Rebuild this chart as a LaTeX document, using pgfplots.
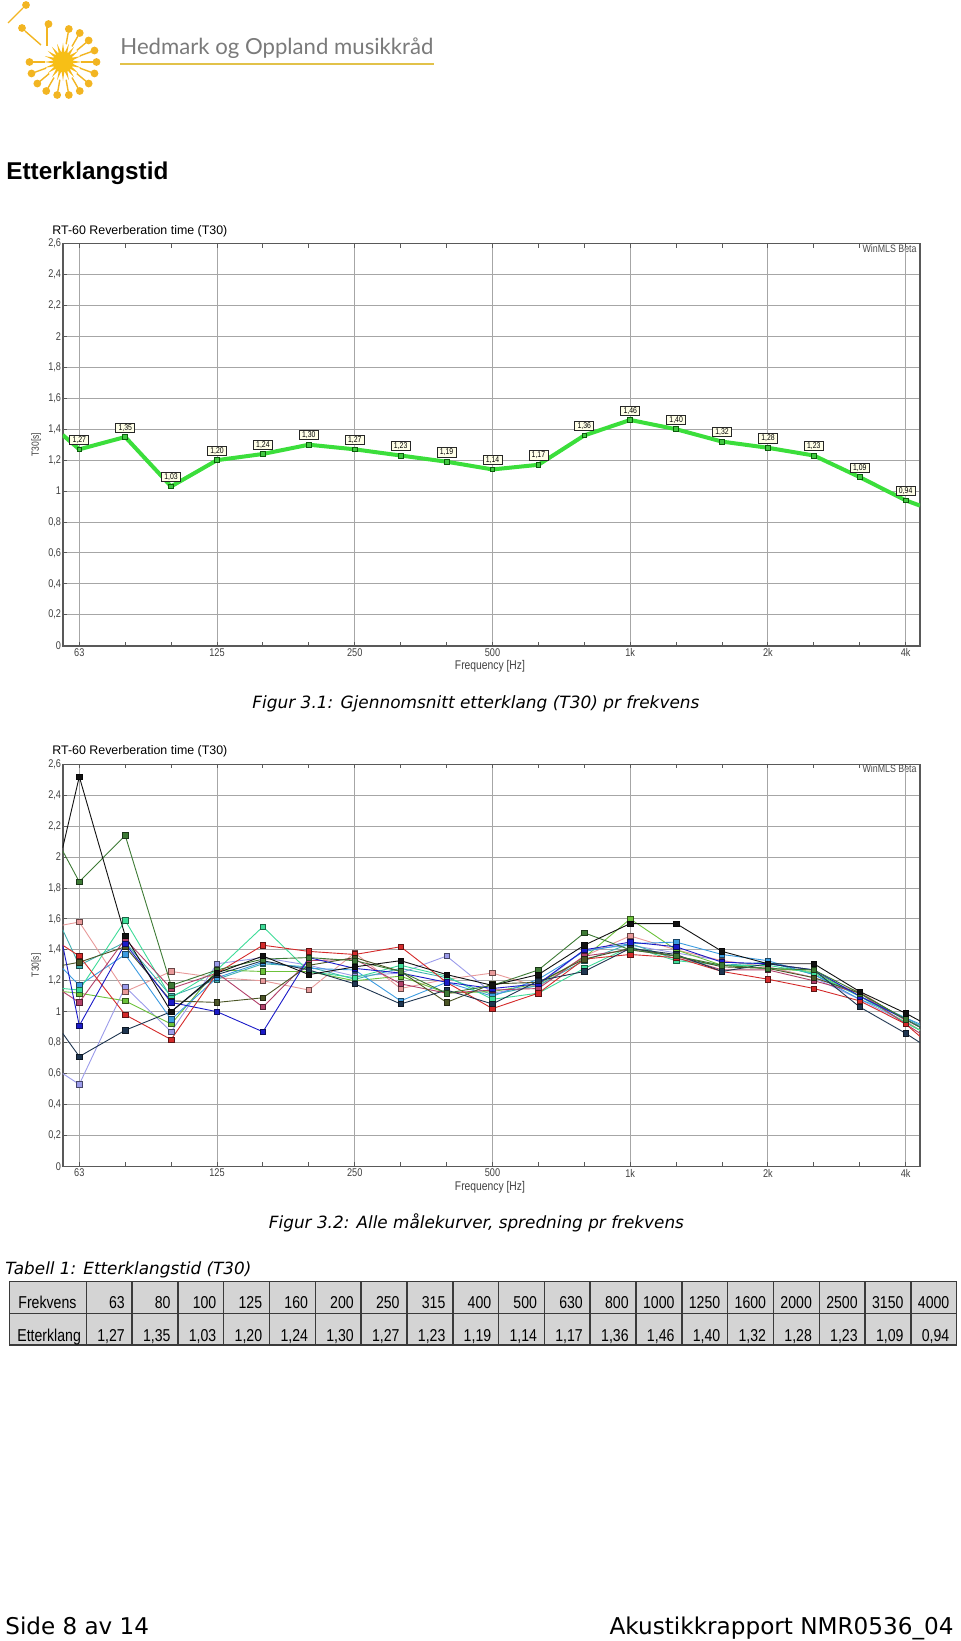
\documentclass[border=0pt]{standalone}
\usepackage{fontspec}
\usepackage{graphicx}
\usepackage{pgfplots}
\usepackage{pgfplotstable}
\pgfplotsset{compat=1.18}
\setmainfont{Liberation Sans}
\newfontfamily\narrowf[FakeStretch=0.82]{Liberation Sans}
\newfontfamily\dvs{DejaVu Sans}
\newfontfamily\lato{Lato}

\definecolor{sunY}{HTML}{F6B818}
\definecolor{noteY}{HTML}{F2B522}
\definecolor{logoG}{HTML}{7A7A7A}
\definecolor{lineY}{HTML}{E2C24A}
\definecolor{lgreen}{HTML}{3BDE3B}
\definecolor{mgreen}{HTML}{40C840}
\definecolor{dgreen}{HTML}{0B5E0B}
\definecolor{tipY}{HTML}{FFFFE8}
\definecolor{tabG}{HTML}{D4D4D4}
\definecolor{tabL}{HTML}{3A3A3A}
\definecolor{gridG}{HTML}{A6A6A6}
\definecolor{cA}{HTML}{111111}
\definecolor{cB}{HTML}{3D7A35}
\definecolor{cC}{HTML}{E89A9A}
\definecolor{cD}{HTML}{D42A2A}
\definecolor{cE}{HTML}{4B5526}
\definecolor{cF}{HTML}{3B9BE0}
\definecolor{cG}{HTML}{3DDC98}
\definecolor{cH}{HTML}{B2406A}
\definecolor{cI}{HTML}{1A1AC8}
\definecolor{cJ}{HTML}{1E3550}
\definecolor{cK}{HTML}{9B9BEA}
\definecolor{cL}{HTML}{6CC23A}
\definecolor{cM}{HTML}{40B0B0}

% all measured curves (x = third-octave index, 63 Hz = 0 ... 4 kHz = 18; first/last rows are the plot edges)
\pgfplotstableread{
x s1 s2 s3 s4 s5 s6 s7 s8 s9 s10 s11 s12 s13
-0.3616 2.06 2.04 1.56 1.43 1.30 1.28 1.15 1.13 1.43 0.86 0.60 1.13 1.53
0 2.52 1.84 1.58 1.36 1.32 1.17 1.14 1.06 0.91 0.71 0.53 1.12 1.30
1 1.49 2.14 1.13 0.98 1.42 1.37 1.59 1.47 1.44 0.88 1.16 1.07 1.45
2 1.00 1.17 1.26 0.82 1.07 0.95 1.09 1.15 1.06 1.00 0.87 0.92 1.10
3 1.25 1.27 1.22 1.25 1.06 1.22 1.27 1.25 1.00 1.24 1.31 1.27 1.21
4 1.36 1.34 1.20 1.43 1.09 1.32 1.55 1.03 0.87 1.33 1.35 1.26 1.31
5 1.24 1.35 1.14 1.39 1.30 1.28 1.26 1.33 1.35 1.27 1.30 1.26 1.29
6 1.29 1.33 1.38 1.37 1.35 1.27 1.22 1.34 1.28 1.18 1.23 1.20 1.21
7 1.33 1.26 1.15 1.42 1.26 1.07 1.30 1.18 1.25 1.05 1.25 1.23 1.28
8 1.24 1.12 1.21 1.19 1.06 1.19 1.23 1.12 1.19 1.14 1.36 1.12 1.22
9 1.17 1.17 1.25 1.02 1.18 1.10 1.08 1.14 1.15 1.05 1.12 1.13 1.11
10 1.24 1.27 1.16 1.12 1.19 1.21 1.12 1.15 1.18 1.20 1.17 1.18 1.17
11 1.43 1.51 1.36 1.34 1.34 1.39 1.28 1.36 1.40 1.26 1.40 1.35 1.33
12 1.57 1.40 1.49 1.37 1.41 1.44 1.42 1.40 1.45 1.41 1.43 1.60 1.44
13 1.57 1.36 1.40 1.35 1.36 1.45 1.33 1.36 1.42 1.37 1.38 1.40 1.34
14 1.39 1.30 1.33 1.26 1.29 1.37 1.30 1.27 1.32 1.26 1.33 1.30 1.30
15 1.31 1.28 1.29 1.21 1.28 1.33 1.30 1.27 1.31 1.31 1.29 1.28 1.32
16 1.31 1.27 1.22 1.15 1.22 1.24 1.25 1.20 1.27 1.27 1.22 1.26 1.24
17 1.13 1.12 1.13 1.07 1.12 1.08 1.10 1.12 1.10 1.03 1.08 1.10 1.10
18 0.99 0.95 0.94 0.92 0.95 0.96 0.93 0.92 0.95 0.86 0.93 0.93 0.96
18.312 0.94 0.90 0.88 0.84 0.90 0.92 0.88 0.86 0.90 0.80 0.88 0.88 0.91
}\curves

\pgfplotsset{
  rtaxis/.style={
    scale only axis, width=428.65pt, height=201pt,
    xmin=-0.3616, xmax=18.312, ymin=0, ymax=2.6,
    xtick={0,3,6,9,12,15,18}, xticklabels={63,125,250,500,1k,2k,4k},
    minor xtick={1,2,4,5,7,8,10,11,13,14,16,17},
    ytick={0,0.2,0.4,0.6,0.8,1,1.2,1.4,1.6,1.8,2,2.2,2.4,2.6},
    xmajorgrids, ymajorgrids,
    grid style={gridG, line width=0.5pt},
    major tick length=2pt, minor tick length=2pt, tick align=inside,
    xtick pos=both, ytick pos=left,
    tick style={black!65, line width=0.5pt},
    axis line style={black!65, line width=0.8pt},
    /pgf/number format/use comma,
    /pgf/number format/assume math mode=true,
    ticklabel style={font=\narrowf\fontsize{5.6pt}{6pt}\selectfont, text=black!75},
    yticklabel style={inner sep=0.6pt},
    xticklabel style={inner sep=1.2pt},
    xlabel={\resizebox{35pt}{!}{\narrowf Frequency [Hz]}},
    ylabel={\narrowf\fontsize{5.2pt}{6pt}\selectfont T30[s]},
    xlabel style={at={(axis description cs:0.4984,-0.051)}, anchor=center, text=black!75},
    ylabel style={at={(axis description cs:-0.031,0.5)}, anchor=center, text=black!75},
  },
  ser/.style={color=#1, line width=0.45pt, mark=square*, mark size=1.35pt,
    mark options={solid, fill=#1, draw=#1!45!black, line width=0.3pt},
    mark indices={2,3,4,5,6,7,8,9,10,11,12,13,14,15,16,17,18,19,20}},
}

\begin{document}
\begin{tikzpicture}
\useasboundingbox (0,0) rectangle (480pt,-820.5pt);

\begin{scope}[x=0.5pt,y=-0.5pt]
  % ---- logo ----
  \begin{scope}[shift={(63,62)}]
    \foreach \a in {-80,-60,...,180} {
      \draw[noteY, line width=0.7pt] (\a:18) -- (\a:30);
      \fill[noteY] (\a:33.5) circle (3.9);
    }
    \foreach \a in {0,18,...,342}
      \fill[sunY] (\a-9:9) -- (\a:19) -- (\a+9:9) -- cycle;
    \fill[sunY!90!yellow] (0,0) circle (10.5);
  \end{scope}
  \draw[noteY, line width=0.7pt] (47,46) -- (47,27);
  \fill[noteY] (48.5,24) circle (3.9);
  \draw[noteY, line width=0.7pt] (41,45) -- (25,31);
  \fill[noteY] (22,28) circle (3.9);
  \draw[noteY, line width=0.7pt] (8,23) -- (23,8);
  \fill[noteY] (26,5) circle (3.9);
  \node[anchor=base west, inner sep=0pt, text=logoG] at (120,55)
    {\resizebox{156.5pt}{!}{\lato Hedmark og Oppland musikkråd}};
  \draw[lineY, line width=0.9pt] (120,64) -- (434,64);

  % ---- heading ----
  \node[anchor=base west, inner sep=0pt] at (6,179.3)
    {\resizebox{81pt}{!}{\bfseries Etterklangstid}};

  % ---- chart titles and watermarks ----
  \node[anchor=west, inner sep=0pt] at (52,231.7)
    {\resizebox{87.5pt}{!}{RT-60 Reverberation time (T30)}};
  \node[anchor=east, inner sep=0pt, text=black!70] at (917,248.3)
    {\resizebox{27pt}{!}{\narrowf WinMLS Beta}};
  \node[anchor=west, inner sep=0pt] at (52,751.7)
    {\resizebox{87.5pt}{!}{RT-60 Reverberation time (T30)}};
  \node[anchor=east, inner sep=0pt, text=black!70] at (917,768.7)
    {\resizebox{27pt}{!}{\narrowf WinMLS Beta}};

  % ---- captions ----
  \node[inner sep=0pt] at (476,703.5)
    {\resizebox{223.5pt}{!}{\dvs\itshape Figur 3.1: Gjennomsnitt etterklang (T30) pr frekvens}};
  \node[inner sep=0pt] at (476.5,1223)
    {\resizebox{207.5pt}{!}{\dvs\itshape Figur 3.2: Alle målekurver, spredning pr frekvens}};
  \node[anchor=west, inner sep=0pt] at (5,1270)
    {\resizebox{123pt}{!}{\dvs\itshape Tabell 1: Etterklangstid (T30)}};

  % ---- table ----
  \fill[tabG] (9.3,1281.7) rectangle (956.7,1345);
  \draw[tabL, line width=0.75pt] (9.3,1281.7) rectangle (956.7,1345);
  \draw[tabL, line width=0.75pt] (9.3,1313.3) -- (956.7,1313.3);
  \foreach \k in {0,...,18}
    \draw[tabL, line width=0.75pt] ({86.3+\k*45.81},1281.7) -- ({86.3+\k*45.81},1345);
  \node[anchor=base west, inner sep=0pt] at (18,1308.3)
    {\narrowf\fontsize{8.6pt}{9pt}\selectfont Frekvens};
  \node[anchor=base west, inner sep=0pt] at (17,1341.2)
    {\narrowf\fontsize{8.6pt}{9pt}\selectfont Etterklang};
  \foreach \f [count=\k] in {63,80,100,125,160,200,250,315,400,500,630,800,1000,1250,1600,2000,2500,3150,4000}
    \node[anchor=base east, inner sep=0pt] at ({86.3+\k*45.81-7},1308.3)
      {\narrowf\fontsize{8.6pt}{9pt}\selectfont \f};
  \foreach \v [count=\k] in {{1,27},{1,35},{1,03},{1,20},{1,24},{1,30},{1,27},{1,23},{1,19},{1,14},{1,17},{1,36},{1,46},{1,40},{1,32},{1,28},{1,23},{1,09},{0,94}}
    \node[anchor=base east, inner sep=0pt] at ({86.3+\k*45.81-7},1341.2)
      {\narrowf\fontsize{8.6pt}{9pt}\selectfont \v};

  % ---- footer ----
  \node[anchor=base west, inner sep=0pt] at (5,1634)
    {\resizebox{71.8pt}{!}{\dvs Side 8 av 14}};
  \node[anchor=base east, inner sep=0pt] at (954,1634)
    {\resizebox{172pt}{!}{\dvs Akustikkrapport NMR0536\_04}};
\end{scope}

% ---- chart 1: average ----
\begin{axis}[rtaxis, at={(31.35pt,-322.85pt)}, anchor=south west]
  \addplot[color=lgreen, line width=2pt] coordinates {
    (-0.3616,1.363) (0,1.27) (1,1.35) (2,1.03) (3,1.20) (4,1.24) (5,1.30) (6,1.27)
    (7,1.23) (8,1.19) (9,1.14) (10,1.17) (11,1.36) (12,1.46) (13,1.40) (14,1.32)
    (15,1.28) (16,1.23) (17,1.09) (18,0.94) (18.312,0.906)};
  \addplot[only marks, mark=square*, mark size=1.2pt,
    mark options={fill=mgreen, draw=dgreen, line width=0.4pt},
    point meta=explicit symbolic, nodes near coords,
    nodes near coords style={font=\narrowf\fontsize{4.2pt}{4.5pt}\selectfont, text=black,
      draw=black!85, line width=0.4pt, fill=tipY, inner xsep=1.4pt, inner ysep=0.7pt,
      text height=2.9pt, text depth=0.3pt, anchor=south, yshift=2.2pt}]
  coordinates {
    (0,1.27) [1,27] (1,1.35) [1,35] (2,1.03) [1,03] (3,1.20) [1,20] (4,1.24) [1,24]
    (5,1.30) [1,30] (6,1.27) [1,27] (7,1.23) [1,23] (8,1.19) [1,19] (9,1.14) [1,14]
    (10,1.17) [1,17] (11,1.36) [1,36] (12,1.46) [1,46] (13,1.40) [1,40] (14,1.32) [1,32]
    (15,1.28) [1,28] (16,1.23) [1,23] (17,1.09) [1,09] (18,0.94) [0,94]};
\end{axis}

% ---- chart 2: all measurement curves ----
\begin{axis}[rtaxis, at={(31.35pt,-583.15pt)}, anchor=south west]
  \addplot[ser=cK] table[x=x, y=s11] {\curves};
  \addplot[ser=cC] table[x=x, y=s3] {\curves};
  \addplot[ser=cM] table[x=x, y=s13] {\curves};
  \addplot[ser=cL] table[x=x, y=s12] {\curves};
  \addplot[ser=cF] table[x=x, y=s6] {\curves};
  \addplot[ser=cG] table[x=x, y=s7] {\curves};
  \addplot[ser=cH] table[x=x, y=s8] {\curves};
  \addplot[ser=cD] table[x=x, y=s4] {\curves};
  \addplot[ser=cE] table[x=x, y=s5] {\curves};
  \addplot[ser=cI] table[x=x, y=s9] {\curves};
  \addplot[ser=cJ] table[x=x, y=s10] {\curves};
  \addplot[ser=cB] table[x=x, y=s2] {\curves};
  \addplot[ser=cA] table[x=x, y=s1] {\curves};
\end{axis}
\end{tikzpicture}
\end{document}
